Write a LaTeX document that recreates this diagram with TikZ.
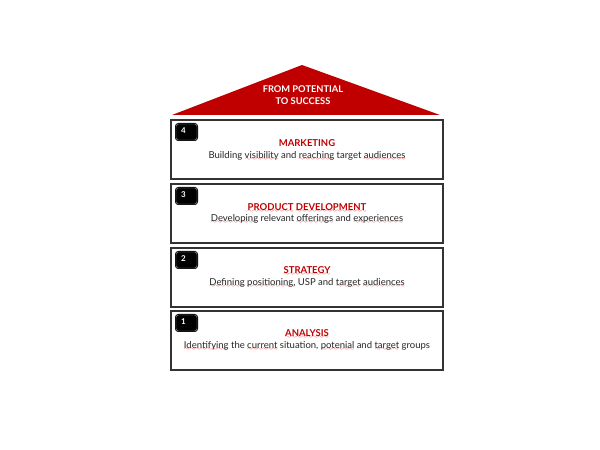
\documentclass[tikz,border=0pt]{standalone}
\usepackage{fontspec}
\setmainfont{Lato}
\usepackage{tikz}
\usetikzlibrary{positioning}
\definecolor{roofred}{RGB}{192,0,0}
\definecolor{spellred}{RGB}{225,40,40}
\font\spellwave=lasy6
\newcommand\spellerr[1]{\setbox0\hbox{#1}\leavevmode\rlap{\textcolor{spellred}{\lower2.4pt\hbox to \wd0{\xleaders\hbox{\spellwave\char58}\hfil}}}\box0\relax}

\begin{document}
\begin{tikzpicture}[x=1pt,y=1pt,
  layer/.style={draw=black!80,line width=1.1pt,fill=white},
  badge/.style={fill=black,draw=black,line width=0.8pt,double=gray!70,double distance=0.4pt,rounded corners=2.5pt},
  num/.style={font=\fontsize{8}{9}\selectfont\bfseries,text=white,inner sep=0pt,anchor=north west},
  ttl/.style={font=\fontsize{9.5}{10}\selectfont\bfseries,text=roofred,inner sep=0pt},
  desc/.style={font=\fontsize{9.5}{10}\selectfont,text=black!85,inner sep=0pt}]
\useasboundingbox (0,0) rectangle (600,450);
\fill[white] (0,0) rectangle (600,450);

% roof
\fill[roofred] (172,335) -- (302,385) -- (440,335) -- cycle;
\node[font=\fontsize{9.3}{11.5}\selectfont\bfseries,text=white,align=center,inner sep=0pt] (rooftext) at (303,353.5) {FROM POTENTIAL\\TO \spellerr{SUCCESS}};

% layer 4
\draw[layer] (171,330) rectangle (443,271);
\draw[badge] (176,326) rectangle (197,310);
\node[num] (n4) at (181,322.5) {4};
\node[ttl] (mkt) at (307,307) {MARKETING};
\node[desc] (mktd) at (307,294) {Building \spellerr{visibility} and \spellerr{reaching} target \spellerr{audiences}};

% layer 3
\draw[layer] (171,266) rectangle (443,207);
\draw[badge] (176,262) rectangle (197,246);
\node[num] (n3) at (181,258.5) {3};
\node[ttl] (prod) at (307,242) {\spellerr{PRODUCT} \spellerr{DEVELOPMENT}};
\node[desc] (prodd) at (307,231) {\spellerr{Developing} relevant \spellerr{offerings} and \spellerr{experiences}};

% layer 2
\draw[layer] (171,202) rectangle (443,143);
\draw[badge] (176,198) rectangle (197,182);
\node[num] (n2) at (181,194.5) {2};
\node[ttl] (strat) at (307,179) {\spellerr{STRATEGY}};
\node[desc] (stratd) at (307,167) {\spellerr{Defining} \spellerr{positioning,} USP and \spellerr{target} \spellerr{audiences}};

% layer 1
\draw[layer] (171,139) rectangle (443,80);
\draw[badge] (176,135) rectangle (197,119);
\node[num] (n1) at (181,131.5) {1};
\node[ttl] (anal) at (307,116) {\spellerr{ANALYSIS}};
\node[desc] (anald) at (307,104) {\spellerr{Identifying} the \spellerr{current} situation, \spellerr{potenial} and \spellerr{target} groups};

\end{tikzpicture}
\end{document}
